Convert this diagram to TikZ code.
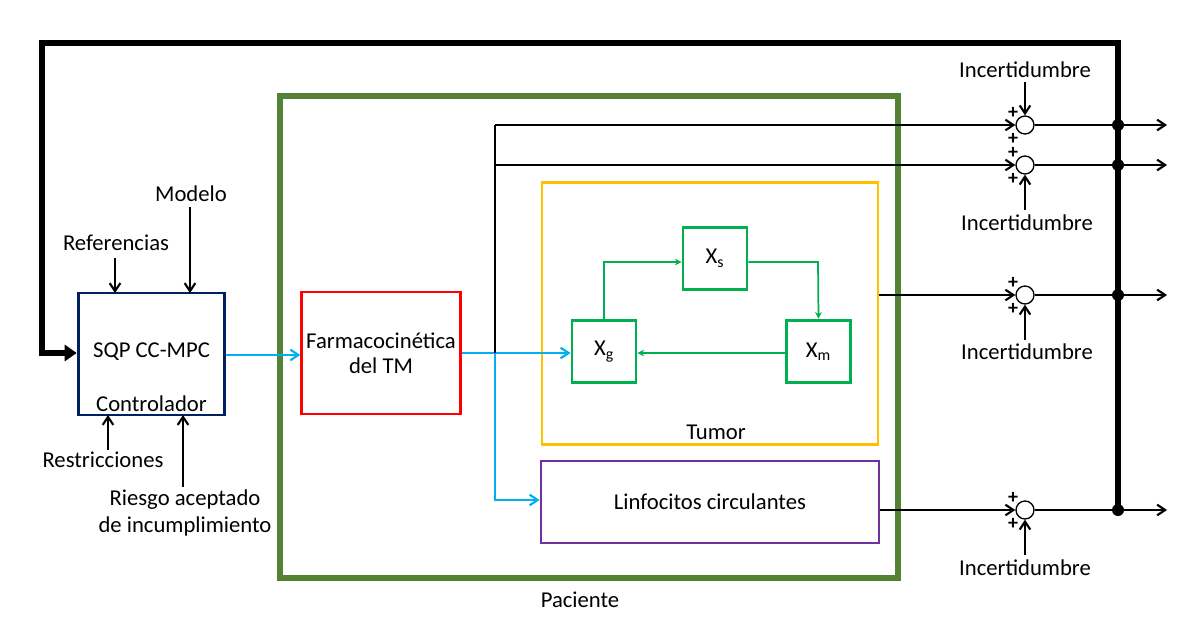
\documentclass[tikz,border=0pt]{standalone}
\usepackage{fontspec}
\setmainfont{Carlito}
\usetikzlibrary{arrows.meta,calc}
\definecolor{pgreen}{HTML}{548235}
\definecolor{navy}{HTML}{002060}
\definecolor{sky}{HTML}{00B0F0}
\definecolor{orng}{HTML}{FFC000}
\definecolor{grn}{HTML}{00B050}
\definecolor{purp}{HTML}{7030A0}
\begin{document}
\begin{tikzpicture}[x=0.75pt,y=-0.75pt,font=\fontsize{17}{19}\selectfont,
 arr/.style={-{Straight Barb[length=6pt,width=8pt]},line width=1.6pt},
 barr/.style={-{Straight Barb[length=6pt,width=8pt]},line width=1.6pt,sky},
 garr/.style={-{Stealth[length=5pt,width=5pt]},line width=1.3pt,grn},
 sum/.style={circle,draw,line width=1pt,fill=white,minimum size=13.5pt,inner sep=0pt},
 dot/.style={circle,fill,inner sep=0pt,minimum size=9pt},
 txt/.style={inner sep=1pt}]
\useasboundingbox (0,0) rectangle (1200,629);
% boxes
\node[draw=navy,line width=2.2pt,minimum width=110pt,minimum height=91.5pt] (ctrl) at (151.5,354) {};
\node[txt] (t1) at (151.5,352) {SQP CC-MPC};
\node[txt] (t2) at (151.5,404) {Controlador};
\node[draw=pgreen,line width=5pt,minimum width=463.5pt,minimum height=361.5pt] (pac) at (589,337) {};
\node[txt] (pl) at (580,600) {Paciente};
\node[draw=red,line width=2.2pt,minimum width=111pt,minimum height=91.5pt,align=center] (farm) at (381,353) {Farmacocinética\\del TM};
\node[draw=orng,line width=2.2pt,minimum width=252pt,minimum height=197pt] (tum) at (710,313.5) {};
\node[txt] (tl) at (716,432) {Tumor};
\node[draw=grn,line width=2.2pt,minimum width=48pt,minimum height=47pt] (xs) at (715,258.5) {X\textsubscript{s}};
\node[draw=grn,line width=2.2pt,minimum width=48pt,minimum height=47pt] (xg) at (604,351.5) {X\textsubscript{g}};
\node[draw=grn,line width=2.2pt,minimum width=48pt,minimum height=47pt] (xm) at (818.5,351.5) {X\textsubscript{m}};
\node[draw=purp,line width=2.2pt,minimum width=253.5pt,minimum height=61.5pt] (lin) at (710,502) {Linfocitos circulantes};
% controller inputs
\node[txt] (ref) at (116,243) {Referencias};
\node[txt] (mod) at (191,194) {Modelo};
\node[txt] (res) at (103,460) {Restricciones};
\node[txt,align=center,font=\fontsize{17}{20.5}\selectfont] (rie) at (185,513) {Riesgo aceptado\\de incumplimiento};
\draw[arr] (115,258) -- (115,293);
\draw[arr] (190,207) -- (190,293);
\draw[arr] (108,450) -- (108,415);
\draw[arr] (183,487) -- (183,415);
% blue
\draw[barr] (ctrl.east |- 0,355) -- (farm.west |- 0,355);
\draw[barr] (farm.east |- 0,353) -- (xg.west |- 0,353);
\coordinate (bj) at (495,353);
\draw[barr] (bj) -- (495,500) -- (lin.west |- 0,500);
% green
\draw[garr] (xg.north) -- (604,262) -- (xs.west |- 0,262);
\draw[garr] (xs.east |- 0,262) -- (818,262) -- (xm.north);
\draw[garr] (xm.west |- 0,353) -- (xg.east |- 0,353);
% sums
\node[sum] (s1) at (1025,125) {};
\node[sum] (s2) at (1025,165) {};
\node[sum] (s3) at (1025,295) {};
\node[sum] (s4) at (1025,510) {};
\foreach \s in {s1,s2,s3,s4}{
 \node[font=\bfseries\fontsize{15}{15}\selectfont,inner sep=0pt] at ($(\s)+(-12,-12)$) {+};
 \node[font=\bfseries\fontsize{15}{15}\selectfont,inner sep=0pt] at ($(\s)+(-12,14)$) {+};}
\draw[line width=1.6pt] (bj) -- (495,125);
\draw[arr] (495,125) -- (s1.west);
\draw[arr] (495,165) -- (s2.west);
\draw[arr] (tum.east |- 0,295) -- (s3.west);
\draw[arr] (lin.east |- 0,510) -- (s4.west);
\node[txt] (i1) at (1025,70) {Incertidumbre};
\node[txt] (i2) at (1027,223) {Incertidumbre};
\node[txt] (i3) at (1027,352) {Incertidumbre};
\node[txt] (i4) at (1025,568) {Incertidumbre};
\draw[arr] (1025,82) -- (s1.north);
\draw[arr] (1025,210) -- (s2.south);
\draw[arr] (1025,340) -- (s3.south);
\draw[arr] (1025,555) -- (s4.south);
% feedback
\draw[line width=4pt] (1118,512) -- (1118,43) -- (42,43) -- (42,353) -- (60,353);
\draw[-{Triangle[length=9pt,width=12pt]},line width=4pt] (55,353) -- (ctrl.west |- 0,353);
\foreach \s/\y in {s1/125,s2/165,s3/295,s4/510}{
 \draw[arr] (\s.east) -- (1167,\y);
 \node[dot] at (1118,\y) {};}
\end{tikzpicture}
\end{document}
